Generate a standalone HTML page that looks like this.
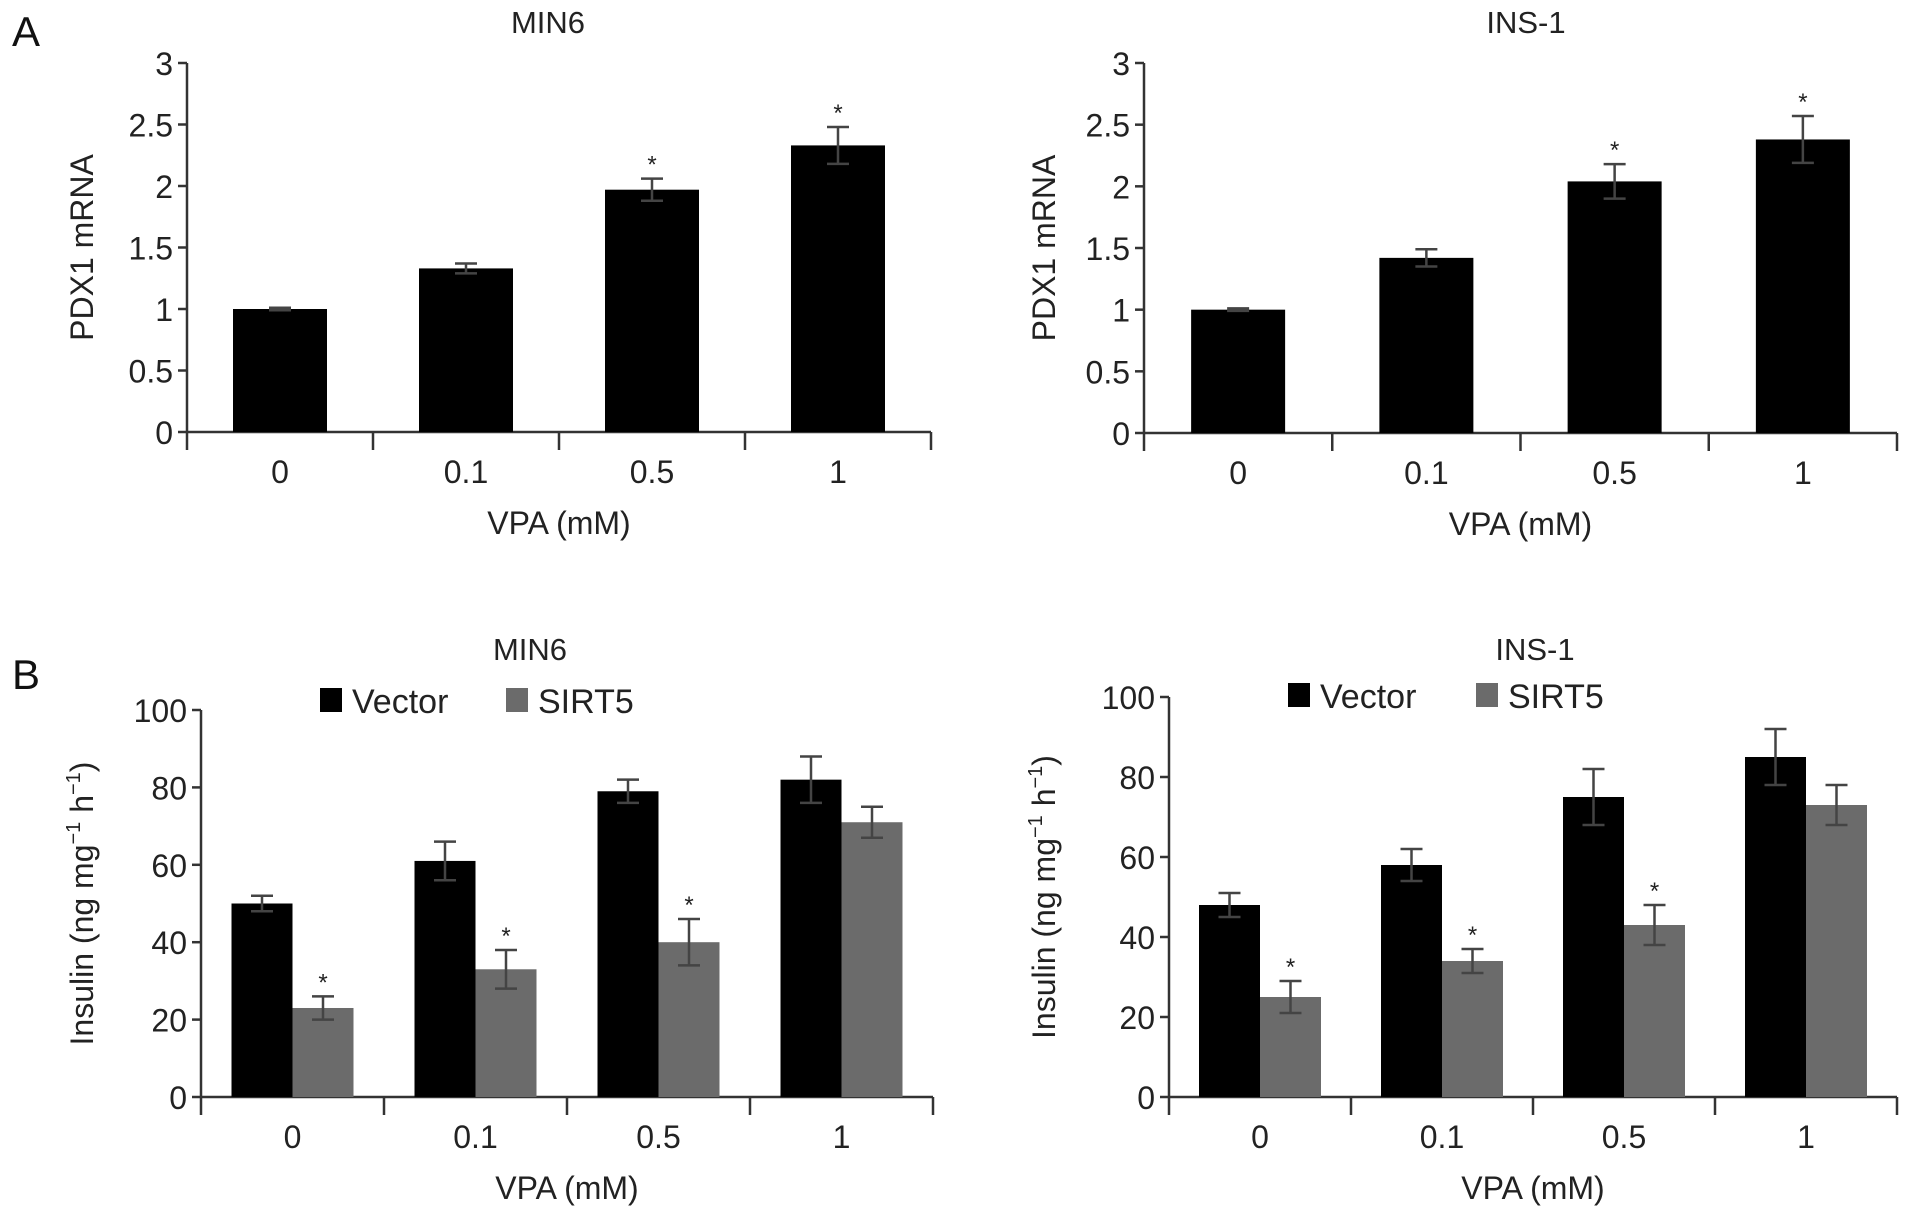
<!DOCTYPE html>
<html><head><meta charset="utf-8">
<style>
html,body{margin:0;padding:0;background:#fff;}
svg{display:block;font-family:"Liberation Sans",Arial,sans-serif;}
</style></head>
<body>
<svg id="fig" width="1913" height="1213" viewBox="0 0 1913 1213">
<text x="12" y="46" font-size="42" fill="#111">A</text>
<text x="12" y="689" font-size="42" fill="#111">B</text>
</svg>
<script>
const categories = ["0","0.1","0.5","1"];
const aMinVals = [1.0,1.33,1.97,2.33];
const aMinErr = [0.01,0.04,0.09,0.15];
const aMinSig = [false,false,true,true];
const aInsVals = [1.0,1.42,2.04,2.38];
const aInsErr = [0.01,0.07,0.14,0.19];
const aInsSig = [false,false,true,true];
const aTicks = [0,0.5,1,1.5,2,2.5,3];
const aTickLabels = ["0","0.5","1","1.5","2","2.5","3"];
const bMinVector = [50,61,79,82];
const bMinVectorErr = [2,5,3,6];
const bMinSirt = [23,33,40,71];
const bMinSirtErr = [3,5,6,4];
const bMinSirtSig = [true,true,true,false];
const bInsVector = [48,58,75,85];
const bInsVectorErr = [3,4,7,7];
const bInsSirt = [25,34,43,73];
const bInsSirtErr = [4,3,5,5];
const bInsSirtSig = [true,true,true,false];
const bTicks = [0,20,40,60,80,100];
const bTickLabels = ["0","20","40","60","80","100"];

const NS="http://www.w3.org/2000/svg";
const svg=document.getElementById('fig');
function mk(tag,attrs,parent,txt){const e=document.createElementNS(NS,tag);for(const k in attrs)e.setAttribute(k,attrs[k]);if(txt!==undefined)e.textContent=txt;(parent||svg).appendChild(e);return e;}

function panel(cfg){
  const g=mk('g',{});
  
  
  const {x0,x1,yTop,yBot,max}=cfg;
  const ys=v=>yBot-(v/max)*(yBot-yTop);
  const gw=(x1-x0)/categories.length;
  const axis='#333';
  const ya=mk('line',{x1:x0,y1:yTop,x2:x0,y2:yBot,stroke:axis,'stroke-width':2.5},g);
  
  
  cfg.ticks.forEach((t,i)=>{
    const y=ys(t);
    mk('line',{x1:x0-9,y1:y,x2:x0,y2:y,stroke:axis,'stroke-width':2.5},g);
    const tl=mk('text',{x:x0-14,y:y+12,'font-size':32,'text-anchor':'end',fill:'#222'},g,cfg.tickLabels[i]);
    
    
  });
  const xa=mk('line',{x1:x0,y1:yBot,x2:x1,y2:yBot,stroke:axis,'stroke-width':2.5},g);
  
  
  for(let i=0;i<=categories.length;i++){
    const x=x0+i*gw;
    mk('line',{x1:x,y1:yBot,x2:x,y2:yBot+18,stroke:axis,'stroke-width':2.5},g);
  }
  categories.forEach((c,i)=>{
    const xl=mk('text',{x:x0+(i+0.5)*gw,y:yBot+51,'font-size':32,'text-anchor':'middle',fill:'#222'},g,c);
    
    
  });
  const xt=mk('text',{x:(x0+x1)/2,y:yBot+102,'font-size':32,'text-anchor':'middle',fill:'#222'},g,'VPA (mM)');
  
  
  const yl=cfg.ylabelX, yc=(yTop+yBot)/2;
  const yt=mk('text',{x:yl,y:yc,'font-size':32,'text-anchor':'middle',fill:'#222',transform:`rotate(-90 ${yl} ${yc})`},g);
  
  
  if(cfg.insulin){
    yt.textContent='Insulin (ng mg';
    mk('tspan',{'font-size':20,dy:-13},yt,'−1');
    mk('tspan',{dy:13},yt,' h');
    mk('tspan',{'font-size':20,dy:-13},yt,'−1');
    mk('tspan',{dy:13},yt,')');
  } else yt.textContent='PDX1 mRNA';
  const tt=mk('text',{x:cfg.titleX,y:cfg.titleY,'font-size':31,'text-anchor':'middle',fill:'#222'},g,cfg.title);
  
  
  const nS=cfg.series.length;
  cfg.series.forEach((s,si)=>{
    s.vals.forEach((v,i)=>{
      const cx=x0+(i+0.5)*gw;
      const bx=cx-(nS*cfg.bw)/2+si*cfg.bw;
      const r=mk('rect',{x:bx,y:ys(v),width:cfg.bw,height:yBot-ys(v),fill:s.color},g);
      
      
      const mx=bx+cfg.bw/2, e=s.err[i];
      const ec='#444';
      const eb=mk('path',{d:`M${mx} ${ys(v+e)}V${ys(v-e)}M${mx-11} ${ys(v+e)}H${mx+11}M${mx-11} ${ys(v-e)}H${mx+11}`,stroke:ec,'stroke-width':2.5,fill:'none'},g);
      
      
      if(s.sig&&s.sig[i]){
        const st=mk('text',{x:mx,y:ys(v+e)-6,'font-size':24,'text-anchor':'middle',fill:'#222'},g,'*');
        
        
      }
    });
  });
  if(cfg.legend){
    const L=cfg.legend;
    const l1=mk('rect',{x:L.x,y:L.y-12,width:22,height:24,fill:'#000'},g);
    
    
    const t1=mk('text',{x:L.x+32,y:L.y+13,'font-size':34,fill:'#222'},g,'Vector');
    
    
    const l2=mk('rect',{x:L.x2,y:L.y-12,width:22,height:24,fill:'#6b6b6b'},g);
    
    
    const t2=mk('text',{x:L.x2+32,y:L.y+13,'font-size':34,fill:'#222'},g,'SIRT5');
    
    
  }
}

panel({name:'chart-a-min6',x0:187,x1:931,yTop:63,yBot:432,max:3,ticks:aTicks,tickLabels:aTickLabels,ylabelX:93,title:'MIN6',titleX:548,titleY:33,bw:94,
  series:[{key:'pdx1',vals:aMinVals,err:aMinErr,sig:aMinSig,color:'#000'}]});
panel({name:'chart-a-ins1',x0:1144,x1:1897,yTop:63,yBot:433,max:3,ticks:aTicks,tickLabels:aTickLabels,ylabelX:1055,title:'INS-1',titleX:1526,titleY:33,bw:94,
  series:[{key:'pdx1',vals:aInsVals,err:aInsErr,sig:aInsSig,color:'#000'}]});
panel({name:'chart-b-min6',insulin:true,x0:201,x1:933,yTop:710,yBot:1097,max:100,ticks:bTicks,tickLabels:bTickLabels,ylabelX:93,title:'MIN6',titleX:530,titleY:660,bw:61,
  legend:{x:320,x2:506,y:700},
  series:[{key:'vector',vals:bMinVector,err:bMinVectorErr,color:'#000'},{key:'sirt5',vals:bMinSirt,err:bMinSirtErr,sig:bMinSirtSig,color:'#6b6b6b'}]});
panel({name:'chart-b-ins1',insulin:true,x0:1169,x1:1897,yTop:697,yBot:1097,max:100,ticks:bTicks,tickLabels:bTickLabels,ylabelX:1055,title:'INS-1',titleX:1535,titleY:660,bw:61,
  legend:{x:1288,x2:1476,y:695},
  series:[{key:'vector',vals:bInsVector,err:bInsVectorErr,color:'#000'},{key:'sirt5',vals:bInsSirt,err:bInsSirtErr,sig:bInsSirtSig,color:'#6b6b6b'}]});
</script>
</body></html>
